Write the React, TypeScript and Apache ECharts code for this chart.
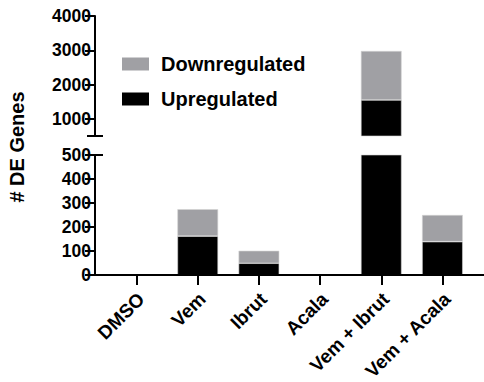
import React, { useEffect, useRef } from "react";
import * as echarts from "echarts";

const categories = ["DMSO", "Vem", "Ibrut", "Acala", "Vem + Ibrut", "Vem + Acala"];
const upregulated = [0, 162, 49, 0, 1550, 139];
const downregulated = [0, 112, 52, 0, 1430, 111];
const topTicks = [1000, 2000, 3000, 4000];

const FONT = "'Liberation Sans', Arial, Helvetica, sans-serif";
const GRAY = "#a0a0a4";
const BLACK = "#000000";

const AXIS_X = 95;
const PLOT_LEFT = 106;
const PLOT_RIGHT = 11;
const TOP_Y0 = 16;
const TOP_H = 120;
const BOT_Y0 = 155;
const BOT_H = 120;

export default function App() {
  const ref = useRef<HTMLDivElement>(null);

  useEffect(() => {
    if (!ref.current) return;
    const chart = echarts.init(ref.current, undefined, { renderer: "svg" });

    const barStyle = (color: string) => ({
      color,
      borderColor: "#d4d4d4",
      borderWidth: 0.6,
    });

    const mk = (grid: number) => [
      {
        name: "Upregulated",
        type: "bar",
        stack: "s" + grid,
        xAxisIndex: grid,
        yAxisIndex: grid,
        barWidth: 40.7,
        itemStyle: barStyle(BLACK),
        data: upregulated,
      },
      {
        name: "Downregulated",
        type: "bar",
        stack: "s" + grid,
        xAxisIndex: grid,
        yAxisIndex: grid,
        barWidth: 40.7,
        itemStyle: barStyle(GRAY),
        data: downregulated,
      },
    ];

    const axisLine = { show: true, lineStyle: { color: "#000", width: 2 } };
    const tickLabelStyle = {
      color: "#000",
      fontFamily: FONT,
      fontWeight: "bold" as const,
      fontSize: 17.5,
    };
    const offset = PLOT_LEFT - AXIS_X;

    chart.setOption({
      animation: false,
      backgroundColor: "#fff",
      grid: [
        {
          left: PLOT_LEFT,
          top: TOP_Y0,
          height: TOP_H,
          right: PLOT_RIGHT,
          containLabel: false,
          outerBoundsMode: "none",
        },
        {
          left: PLOT_LEFT,
          top: BOT_Y0,
          height: BOT_H,
          right: PLOT_RIGHT,
          containLabel: false,
          outerBoundsMode: "none",
        },
      ],
      legend: {
        orient: "vertical",
        left: 117,
        top: 49,
        itemWidth: 27,
        itemHeight: 13,
        itemGap: 15,
        icon: "rect",
        data: ["Downregulated", "Upregulated"],
        textStyle: {
          color: "#000",
          fontFamily: FONT,
          fontWeight: "bold",
          fontSize: 20,
          padding: [0, 0, 0, 7],
        },
        itemStyle: { borderWidth: 0 },
      },
      xAxis: [
        {
          type: "category",
          gridIndex: 0,
          data: categories,
          show: false,
        },
        {
          type: "category",
          gridIndex: 1,
          data: categories,
          axisLine: { show: false },
          axisTick: {
            show: true,
            alignWithLabel: true,
            length: 10,
            lineStyle: { color: "#000", width: 2 },
          },
          axisLabel: {
            color: "#000",
            fontFamily: FONT,
            fontWeight: "bold",
            fontSize: 19,
            rotate: 45,
            align: "right",
            verticalAlign: "top",
            margin: 12,
            padding: [0, 3, 0, 0],
            interval: 0,
          },
        },
      ],
      yAxis: [
        {
          type: "value",
          gridIndex: 0,
          min: 500,
          max: 4000,
          offset,
          splitLine: { show: false },
          axisLine,
          axisTick: {
            show: true,
            length: 10,
            lineStyle: { color: "#000", width: 2 },
            customValues: topTicks,
          },
          axisLabel: {
            ...tickLabelStyle,
            margin: 4,
            customValues: topTicks,
            formatter: (v: number) => String(v),
          },
        },
        {
          type: "value",
          gridIndex: 1,
          min: 0,
          max: 500,
          interval: 100,
          offset,
          splitLine: { show: false },
          axisLine,
          axisTick: {
            show: true,
            length: 10,
            lineStyle: { color: "#000", width: 2 },
          },
          axisLabel: {
            ...tickLabelStyle,
            margin: 4,
            formatter: (v: number) => String(v),
          },
        },
      ],
      graphic: [
        {
          type: "line",
          z: 100,
          shape: { x1: AXIS_X, y1: BOT_Y0 + BOT_H, x2: 484, y2: BOT_Y0 + BOT_H },
          style: { stroke: "#000", lineWidth: 2 },
        },
        {
          type: "line",
          shape: { x1: AXIS_X - 8, y1: TOP_Y0 + TOP_H, x2: AXIS_X + 8, y2: TOP_Y0 + TOP_H },
          style: { stroke: "#000", lineWidth: 2 },
        },
        {
          type: "line",
          shape: { x1: AXIS_X - 8, y1: BOT_Y0, x2: AXIS_X + 8, y2: BOT_Y0 },
          style: { stroke: "#000", lineWidth: 2 },
        },
        {
          type: "text",
          x: 17,
          y: 147,
          rotation: Math.PI / 2,
          style: {
            text: "# DE Genes",
            fill: "#000",
            font: `bold 20px ${FONT}`,
            align: "center",
            verticalAlign: "middle",
          },
        },
      ],
      series: [...mk(0), ...mk(1)],
    });

    return () => chart.dispose();
  }, []);

  return (
    <div
      ref={ref}
      style={{ position: "fixed", left: 0, top: 0, width: 484, height: 382 }}
    />
  );
}
